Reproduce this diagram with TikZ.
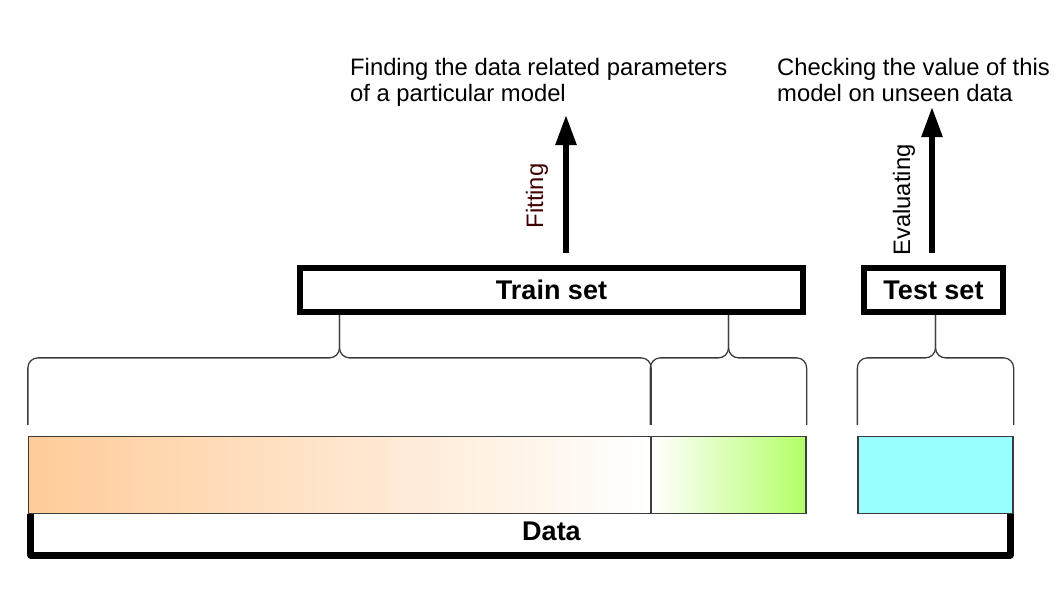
\documentclass[tikz,border=0pt]{standalone}
\usepackage{fontspec}
\setmainfont{Liberation Sans}
\usetikzlibrary{arrows.meta}

\definecolor{peach}{RGB}{255,204,153}
\definecolor{lime}{RGB}{179,255,102}
\definecolor{aqua}{RGB}{153,255,255}
\definecolor{darkred}{RGB}{64,0,0}
\definecolor{edge}{RGB}{60,60,60}

\begin{document}
\begin{tikzpicture}[x=1pt,y=-1pt,
  setbox/.style={draw=black,line width=6pt,fill=white,minimum height=44pt,inner sep=0pt,font=\bfseries\fontsize{27}{30}\selectfont},
  bar/.style={draw=edge,line width=1.3pt,minimum height=77pt,inner sep=0pt},
  brace/.style={edge,line width=1.3pt,rounded corners=10pt},
  frame/.style={line width=7pt,line join=round},
  uparrow/.style={line width=5.5pt,-{Triangle[length=30pt,width=20pt]}},
  note/.style={align=left,inner sep=0pt,font=\fontsize{23.8}{26}\selectfont}]
\useasboundingbox (0,0) rectangle (1058,595);

% the split of the data
\node[bar,minimum width=622pt,left color=peach,right color=white] (orange) at (339.5,475) {};
\node[bar,minimum width=155pt,left color=white,right color=lime] (green) at (728.5,475) {};
\node[bar,minimum width=155pt,fill=aqua] (cyan) at (935.5,475) {};

% the data frame under the bars
\node[font=\bfseries\fontsize{27}{30}\selectfont,inner sep=0pt] (data) at (551.5,531) {Data};
\coordinate (floor) at (551.5,555);
\coordinate (dl) at ([xshift=3pt]orange.south west);
\coordinate (dr) at ([xshift=-3.5pt]cyan.south east);
\draw[frame] (dl) |- (floor) -| (dr);

% the two sets
\node[setbox,minimum width=503pt] (train) at (551.5,290) {Train set};
\node[setbox,minimum width=139pt] (test) at (933.5,290) {Test set};

% braces
\foreach \b/\s in {orange/train,green/train,cyan/test} {
  \draw[brace] ([yshift=11pt]\b.north west) |- ([yshift=78pt]\b.north) -- (\b.north |- \s.south);
  \draw[brace] ([yshift=11pt]\b.north east) |- ([yshift=78pt]\b.north) -- (\b.north |- \s.south);
}

% what is done with each set
\coordinate (fittip) at (566,115);
\coordinate (evaltip) at (932,107);
\draw[uparrow,shorten <=12pt] (train.north -| fittip) -- (fittip);
\draw[uparrow,shorten <=12pt] (test.north -| evaltip) -- (evaltip);
\node[note,rotate=90,text=darkred] (fitting) at (537,196) {Fitting};
\node[note,rotate=90] (evaluating) at (904,200) {Evaluating};

\node[note,anchor=north west] (fitnote) at (350,58) {Finding the data related parameters\\of a particular model};
\node[note,anchor=north west] (evalnote) at (777,58) {Checking the value of this\\model on unseen data};
\end{tikzpicture}
\end{document}
